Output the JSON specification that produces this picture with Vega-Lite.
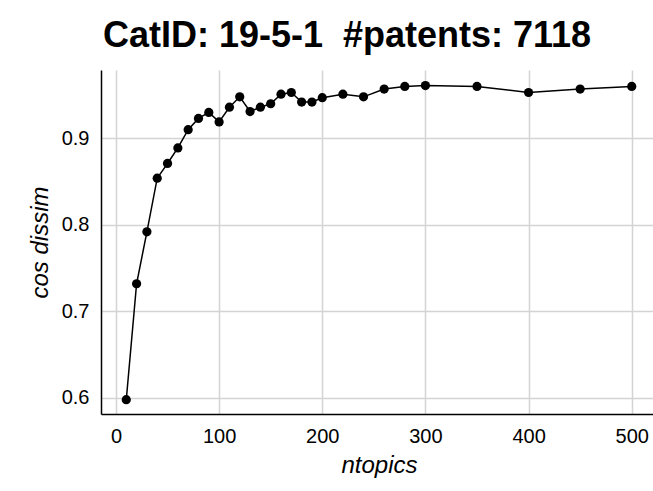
{
  "$schema": "https://vega.github.io/schema/vega-lite/v6.json",
  "autosize": "none",
  "width": 556,
  "height": 344,
  "padding": {"left": 101, "top": 70, "right": 0, "bottom": 77},
  "background": "white",
  "title": {
    "text": "CatID: 19-5-1\u00a0 #patents: 7118",
    "font": "Liberation Sans",
    "fontSize": 36,
    "fontWeight": "bold",
    "color": "black",
    "anchor": "middle",
    "baseline": "alphabetic",
    "offset": -13,
    "dx": -32
  },
  "data": {
    "values": [
      {"ntopics": 10, "cos": 0.598},
      {"ntopics": 20, "cos": 0.732},
      {"ntopics": 30, "cos": 0.792},
      {"ntopics": 40, "cos": 0.854},
      {"ntopics": 50, "cos": 0.871},
      {"ntopics": 60, "cos": 0.889},
      {"ntopics": 70, "cos": 0.910},
      {"ntopics": 80, "cos": 0.923},
      {"ntopics": 90, "cos": 0.930},
      {"ntopics": 100, "cos": 0.919},
      {"ntopics": 110, "cos": 0.936},
      {"ntopics": 120, "cos": 0.948},
      {"ntopics": 130, "cos": 0.931},
      {"ntopics": 140, "cos": 0.936},
      {"ntopics": 150, "cos": 0.940},
      {"ntopics": 160, "cos": 0.951},
      {"ntopics": 170, "cos": 0.953},
      {"ntopics": 180, "cos": 0.942},
      {"ntopics": 190, "cos": 0.942},
      {"ntopics": 200, "cos": 0.947},
      {"ntopics": 220, "cos": 0.951},
      {"ntopics": 240, "cos": 0.948},
      {"ntopics": 260, "cos": 0.957},
      {"ntopics": 280, "cos": 0.960},
      {"ntopics": 300, "cos": 0.961},
      {"ntopics": 350, "cos": 0.960},
      {"ntopics": 400, "cos": 0.953},
      {"ntopics": 450, "cos": 0.957},
      {"ntopics": 500, "cos": 0.960}
    ]
  },
  "encoding": {
    "x": {
      "field": "ntopics",
      "type": "quantitative",
      "scale": {"domain": [-14.5, 524.5], "nice": false, "zero": false},
      "axis": {
        "title": "ntopics",
        "values": [0, 100, 200, 300, 400, 500],
        "titleFont": "Liberation Sans",
        "titleFontSize": 24,
        "titleFontStyle": "italic",
        "titleFontWeight": "normal",
        "titleColor": "black",
        "titlePadding": 7,
        "labelFont": "Liberation Sans",
        "labelFontSize": 20,
        "labelColor": "black",
        "labelPadding": 12,
        "ticks": false,
        "domainColor": "black",
        "domainWidth": 1.5,
        "gridColor": "#d4d4d4",
        "gridWidth": 1.5
      }
    },
    "y": {
      "field": "cos",
      "type": "quantitative",
      "scale": {"domain": [0.5815, 0.979], "nice": false, "zero": false},
      "axis": {
        "title": "cos dissim",
        "values": [0.6, 0.7, 0.8, 0.9],
        "format": ".1f",
        "titleFont": "Liberation Sans",
        "titleFontSize": 24,
        "titleFontStyle": "italic",
        "titleFontWeight": "normal",
        "titleColor": "black",
        "titlePadding": 9,
        "labelFont": "Liberation Sans",
        "labelFontSize": 20,
        "labelColor": "black",
        "labelPadding": 12,
        "ticks": false,
        "domainColor": "black",
        "domainWidth": 1.5,
        "gridColor": "#d4d4d4",
        "gridWidth": 1.5
      }
    }
  },
  "layer": [
    {"mark": {"type": "line", "color": "black", "strokeWidth": 1.5}},
    {"mark": {"type": "circle", "color": "black", "opacity": 1, "size": 85}}
  ],
  "config": {"view": {"stroke": null}}
}
